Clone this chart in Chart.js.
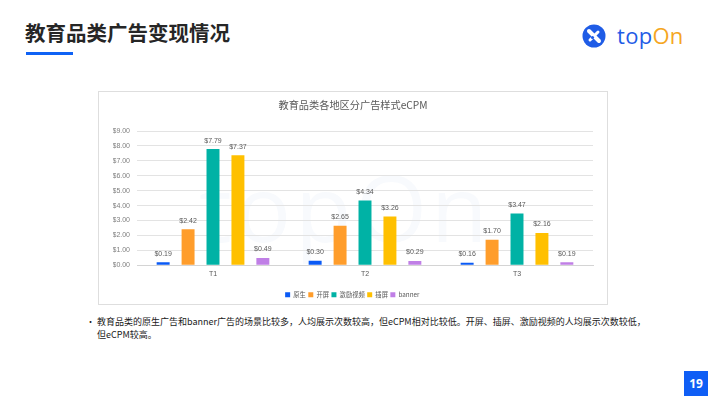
<!DOCTYPE html>
<html>
<head>
<meta charset="utf-8">
<script src="https://cdn.jsdelivr.net/npm/chart.js@4.4.0/dist/chart.umd.min.js"></script>
<style>
    html, body { margin: 0; padding: 0; background: #fff; }
    body { width: 710px; height: 399px; position: relative; overflow: hidden; font-family: "Noto Sans CJK SC", "Noto Sans", sans-serif; }
    #title { position: absolute; left: 25px; top: 17px; font-size: 20.5px; font-weight: bold; color: #262626; }
    #underline { position: absolute; left: 26px; top: 52px; width: 47px; height: 3px; background: #0f62f5; }
    #logo { position: absolute; left: 582px; top: 22px; width: 110px; height: 28px; }
    #logo .word { position: absolute; left: 35px; top: -2px; font-family: "Open Sans", Lato, sans-serif; font-size: 22px; font-weight: 400; letter-spacing: 0.3px; }
    #box { position: absolute; left: 98px; top: 91px; width: 508px; height: 212px; border: 1px solid #dedede; }
    #watermark { position: absolute; left: 100px; top: 52px; font-family: "Open Sans", sans-serif; font-size: 92px; color: rgba(30, 80, 200, 0.03); letter-spacing: 4px; }
    #canvas { position: absolute; left: 0; top: 0; }
    #note { position: absolute; left: 86px; top: 315px; width: 600px; font-size: 9px; line-height: 13px; color: #1a1a1a; }
    #note .dot { position: absolute; left: 0; top: 0; }
    #note .txt { margin-left: 11px; }
    #page { position: absolute; left: 684px; top: 371px; width: 24px; height: 25px; background: #0f5ef5; color: #fff; font-family: "Open Sans", sans-serif; font-weight: bold; font-size: 12px; line-height: 25px; text-align: center; }
</style>
</head>
<body>
<div id="title">教育品类广告变现情况</div>
<div id="underline"></div>
<div id="logo">
    <svg width="24" height="24" viewBox="0 0 24 24" style="position:absolute;left:0;top:2px">
        <circle cx="12" cy="12" r="11.5" fill="#1f5ce6"/>
        <path d="M7 7 L17 17" stroke="#fff" stroke-width="4" stroke-linecap="round"/>
        <path d="M8 16 L16 8" stroke="#fff" stroke-width="3" stroke-linecap="round"/>
        <circle cx="10.5" cy="13.5" r="1.6" fill="#1f5ce6"/>
    </svg>
    <div class="word"><span style="color:#1f5ce6">top</span><span style="color:#f5a623">On</span></div>
</div>
<div id="box">
    <div id="watermark">topOn</div>
    <canvas id="canvas" width="508" height="212"></canvas>
</div>
<div id="note">
    <span class="dot">•</span>
    <div class="txt">教育品类的原生广告和banner广告的场景比较多，人均展示次数较高，但eCPM相对比较低。开屏、插屏、激励视频的人均展示次数较低，<br>但eCPM较高。</div>
</div>
<div id="page">19</div>
<script>
let chart;
const regions = ['T1', 'T2', 'T3'];
const yTicks = [0, 1, 2, 3, 4, 5, 6, 7, 8, 9];
const yuansheng = [0.19, 0.30, 0.16];
const kaiping = [2.42, 2.65, 1.70];
const jili = [7.79, 4.34, 3.47];
const chaping = [7.37, 3.26, 2.16];
const banner = [0.49, 0.29, 0.19];

const labelPlugin = {
    id: 'barLabels',
    afterDatasetsDraw(c) {
        const ctx = c.ctx;
        ctx.save();
        ctx.font = '7px "Liberation Sans", "Noto Sans", sans-serif';
        ctx.fillStyle = '#595959';
        ctx.textAlign = 'center';
        ctx.textBaseline = 'bottom';
        c.data.datasets.forEach(function (ds, i) {
            c.getDatasetMeta(i).data.forEach(function (bar, j) {
                ctx.fillText('$' + ds.data[j].toFixed(2), bar.x, bar.y - 5);
            });
        });
        ctx.restore();
    }
};

function makeSet(label, data, color) {
    return {
        label: label,
        data: data,
        backgroundColor: color,
        borderWidth: 0,
        categoryPercentage: 0.82,
        barPercentage: 0.52
    };
}

chart = new Chart(document.getElementById('canvas'), {
    type: 'bar',
    data: {
        labels: regions,
        datasets: [
            makeSet('原生', yuansheng, '#0a5af5'),
            makeSet('开屏', kaiping, '#ff9d2b'),
            makeSet('激励视频', jili, '#00b2a5'),
            makeSet('插屏', chaping, '#ffc000'),
            makeSet('banner', banner, '#c07fe6')
        ]
    },
    options: {
        responsive: false,
        animation: false,
        layout: { padding: { left: 14, right: 14, top: 0, bottom: -4 } },
        plugins: {
            title: {
                display: true,
                text: '教育品类各地区分广告样式eCPM',
                color: '#595959',
                font: { family: '"Noto Sans CJK SC", sans-serif', size: 10.2, weight: 'normal' },
                padding: { top: 6.8, bottom: 20 }
            },
            legend: {
                position: 'bottom',
                labels: {
                    boxWidth: 5,
                    boxHeight: 5,
                    padding: 1,
                    color: '#595959',
                    font: { family: '"Noto Sans CJK SC", sans-serif', size: 6.3 },
                    generateLabels: function (c) {
                        const items = Chart.defaults.plugins.legend.labels.generateLabels(c);
                        items.forEach(it => { it.text = it.text + ' '; });
                        return items;
                    }
                }
            },
            tooltip: { enabled: false }
        },
        scales: {
            x: {
                afterFit: function (s) { s.height = 25.5; },
                grid: { display: false, tickLength: 4 },
                border: { color: '#d4d4d4' },
                ticks: { color: '#595959', padding: 1, font: { family: '"Liberation Sans", sans-serif', size: 7 } }
            },
            y: {
                min: 0,
                max: 9,
                afterFit: function (s) { s.width = 24; },
                afterBuildTicks: function (s) { s.ticks = yTicks.map(v => ({ value: v })); },
                grid: { color: '#e3e3e3', drawTicks: false },
                border: { display: false },
                ticks: {
                    color: '#7f7f7f',
                    padding: 7,
                    font: { family: '"Liberation Sans", sans-serif', size: 7 },
                    callback: v => '$' + v.toFixed(2)
                }
            }
        }
    },
    plugins: [labelPlugin]
});
</script>
</body>
</html>
